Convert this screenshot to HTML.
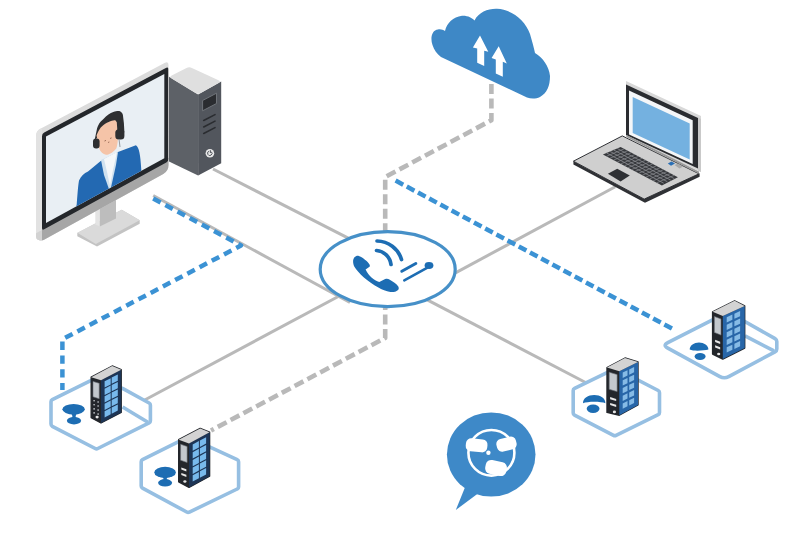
<!DOCTYPE html>
<html><head><meta charset="utf-8"><style>
html,body{margin:0;padding:0;background:#fff;}
body{width:801px;height:534px;overflow:hidden;font-family:"Liberation Sans",sans-serif;}
svg{display:block}
</style></head><body>
<svg width="801" height="534" viewBox="0 0 801 534">
<line x1="213" y1="169" x2="360" y2="244.1" stroke="#b9b9b9" stroke-width="3" fill="none"/>
<line x1="153.2" y1="195.5" x2="350" y2="302.5" stroke="#b9b9b9" stroke-width="3" fill="none"/>
<line x1="144.7" y1="400" x2="350" y2="290.2" stroke="#b9b9b9" stroke-width="3" fill="none"/>
<line x1="615.3" y1="186.7" x2="430" y2="286.6" stroke="#b9b9b9" stroke-width="3" fill="none"/>
<line x1="585.6" y1="382.5" x2="410" y2="290.8" stroke="#b9b9b9" stroke-width="3" fill="none"/>
<path d="M491.4,84 L491.4,120.2 L385.2,177 L385.2,240" stroke="#b9b9b9" stroke-width="4.6" fill="none" stroke-dasharray="10 4.5" stroke-linejoin="round"/>
<path d="M385.2,300 L385.2,337.9 L211,430.5" stroke="#b9b9b9" stroke-width="4.6" fill="none" stroke-dasharray="10 4.5" stroke-linejoin="round"/>
<path d="M395.6,180.6 L675.2,330.2" stroke="#3b92d4" stroke-width="4.5" fill="none" stroke-dasharray="8.6 4.1" stroke-linejoin="round"/>
<path d="M153.2,198.5 L241,245.5 L62.4,339.3 L62.4,390" stroke="#3b92d4" stroke-width="4.5" fill="none" stroke-dasharray="8.4 5.4" stroke-linejoin="round"/>
<ellipse cx="387.7" cy="269.2" rx="67.5" ry="37.5" fill="#fff" stroke="#4690c8" stroke-width="3.2"/>
<path d="M353.1,261.5 C353,258 355.5,255.5 358.3,255.8 C361,256.5 366,260 368.8,263.4 C370,264.8 370.2,266 369.5,266.8 L365.6,269.6 C367.5,273 369,275.5 371.5,277.5 C374,279.5 376.5,281 379.3,282 L385.2,279.1 C387,278.5 388.5,279 389.8,279.8 C393,281.5 396.5,284 397.7,285.7 C399,287 399,289 398.3,289.8 C397,291 396,291.5 395,291.8 C392,292.3 389,292 387.2,291.3 C384,290.3 381.5,289.3 379.3,288 C373,284.7 368,281 363.6,277.2 C359.5,273.5 356.5,270 354.4,266.7 C353.5,265 353.1,263 353.1,261.5 Z" fill="#1d6db3"/>
<path d="M376.5,250.5 A16,16 0 0 1 391,264.5" stroke="#1d6db3" stroke-width="3.7" fill="none" stroke-linecap="round"/>
<path d="M377,241 A26,26 0 0 1 401.5,259.5" stroke="#1d6db3" stroke-width="3.7" fill="none" stroke-linecap="round"/>
<line x1="401.8" y1="271.2" x2="415.8" y2="263.5" stroke="#1d6db3" stroke-width="3" stroke-linecap="round"/>
<line x1="404.3" y1="280.3" x2="427" y2="267.8" stroke="#1d6db3" stroke-width="2.6" stroke-linecap="round"/>
<ellipse cx="429" cy="265.5" rx="4.4" ry="3.4" fill="#1d6db3"/>
<path d="M432.5,45 C430,38 432,30 438,29.5 C441,29 443,30 445,31 C447,23 453,17 462,15.8 C468,15.5 472,18 474.5,20.5 C479,12 488,8.5 497,8.8 C512,9.5 525,20 530,34 C532,41 534,48 535,53 C543,58 549,66 550,76 C550,86 547,93 540,97 C536,99 531,99 527,97.5 L441,57 C437,54 434,50 432.5,45 Z" fill="#3e88c6"/>
<polygon points="480,35.4 488.3,51.8 484.2,50.8 484.2,66 477.2,62.8 477.2,48.4 472.9,47.4" fill="#fff"/>
<polygon points="498.7,46.2 506.8,63.4 502.8,61.8 502.8,76.8 495.8,73.6 495.8,59.4 491.6,58" fill="#fff"/>
<polygon points="77.3,233 121.7,209.7 139.7,220.3 139.7,223.8 97,246.5 77.3,236.2" fill="#c3c3c3"/>
<polygon points="77.3,232.7 121.7,209.7 139.7,220.3 95.8,244" fill="#dadada"/>
<polygon points="95.3,200 99.8,198 99.8,226.5 95.3,224.5" fill="#e4e4e4"/>
<polygon points="99.8,198 116,190 116,218.5 99.8,226.5" fill="#bdbdbd"/>
<clipPath id="mon"><path d="M36.0,136.2 Q36.0,131.2 40.4,128.8 L165.0,62.8 Q168.5,61.0 168.5,65.0 L168.5,165.0 Q168.5,171.0 163.3,173.9 L44.5,239.6 Q42.0,241.0 39.3,240.2 L38.7,240.0 Q36.0,239.2 36.0,236.3 Z"/></clipPath>
<g clip-path="url(#mon)">
<polygon points="35.0,129.7 170.0,58.2 170.0,175.2 35.0,246.7" fill="#dcdcdc"/>
<polygon points="35.0,129.7 42.0,126.0 42.0,243.0 35.0,246.7" fill="#e2e2e2"/>
<polygon points="42.0,227.0 170.0,157.2 170.0,175.2 42.0,243.0" fill="#a6a6a6"/>
<polygon points="35.0,233.7 42.0,230.0 42.0,243.0 35.0,246.7" fill="#d2d2d2"/>
<path d="M42.0,136.2 Q42.0,133.7 44.2,132.5 L166.3,67.8 Q168.5,66.7 168.5,69.2 L168.5,158.7 Q168.5,161.2 166.3,162.4 L44.2,229.3 Q42.0,230.5 42.0,228.0 Z" fill="#24272b"/>
</g>
<clipPath id="scr"><polygon points="46.0,136.6 164.3,73.9 164.3,158.3 46.0,222.9"/></clipPath>
<polygon points="46.0,136.6 164.3,73.9 164.3,158.3 46.0,222.9" fill="#e9eff4"/>
<g clip-path="url(#scr)"><path d="M74,215 L76.7,204.4 C77.5,195 78,186 79,180.4 C81,176 84,173.5 88,171.5 L100.7,161 L118,152 L135.9,145.2 C139,147 140.5,155 141.2,168.5 L144,215 Z" fill="#2369b2"/><path d="M101,160 L118,152 L116,165 L110,192 L104,175 Z" fill="#cfe1ef"/><path d="M104,159 L117,152 L113,170 L110,186 L107,172 Z" fill="#f4f7f9"/><path d="M94.6,140 L97.1,128.3 C99,123 101,121 103.2,119.2 C107,115.5 110,113 113.3,112.1 C116,111 118,110.8 119.4,111.1 C121.5,112 122.6,113.5 122.9,115.1 L123.9,123.2 L124.4,132.3 L118,134 L97,138 Z" fill="#2e2f31"/><path d="M96.6,135.4 C99,129 101,127 103.2,125.2 C106,123 108,122 110.3,121.2 C112.5,120.6 114,120.2 115.3,120.2 L116.8,122.2 L117.4,131.3 L117.9,139.4 C117.5,144 117,146.5 116.3,148.5 C114,151 112.5,152.5 110.3,153.6 C108,155 106.5,155 105.2,154.6 C102.5,153.5 101,152 100.1,150.5 C99,148.5 98.5,146.5 98.1,144.5 Z" fill="#f5c4a8"/><rect x="93" y="138.4" width="6.6" height="10.1" rx="3" fill="#2e2f31"/><rect x="115.3" y="129.3" width="9.1" height="10.1" rx="3.5" fill="#2e2f31"/><path d="M119,139 L120,147" stroke="#8a8f94" stroke-width="0.9" fill="none"/><path d="M104.5,141 l1.5,-0.6 M110,138.5 l1.6,-0.6 M108,142.5 l1.3,-0.5" stroke="#7a4a3a" stroke-width="0.7"/></g>
<polygon points="169,76.8 198.1,94.5 198.1,175.4 169,161.5" fill="#5d6167"/>
<polygon points="198.1,94.5 221.2,81.6 221.2,163.3 198.1,175.4" fill="#52565d"/>
<path d="M171.6,78.4 Q169.0,76.8 171.7,75.5 L186.5,68.0 Q189.2,66.7 191.9,68.0 L218.5,80.3 Q221.2,81.6 218.6,83.1 L200.7,93.0 Q198.1,94.5 195.5,92.9 Z" fill="#dfdfdf"/>
<polygon points="202.6,100.5 216.5,93.2 216.5,103.5 202.6,110.8" fill="#2a2c30" stroke="#74787e" stroke-width="0.9"/>
<line x1="203.7" y1="120.5" x2="215" y2="114.6" stroke="#2a2c30" stroke-width="1.6" stroke-linecap="round"/>
<line x1="203.7" y1="127.0" x2="215" y2="121.1" stroke="#2a2c30" stroke-width="1.6" stroke-linecap="round"/>
<line x1="203.7" y1="133.5" x2="215" y2="127.6" stroke="#2a2c30" stroke-width="1.6" stroke-linecap="round"/>
<circle cx="209.9" cy="153.3" r="4.3" fill="#e8e8e8"/>
<path d="M209.2,151.2 a2.2,2.2 0 1 0 2.2,0.6" stroke="#52565d" stroke-width="1" fill="none"/><line x1="210.4" y1="150.2" x2="210.4" y2="153" stroke="#52565d" stroke-width="1"/>
<polygon points="573.4,161.2 644.2,199.1 699.6,173.2 699.6,176.8 645,202.8 573.4,164.6" fill="#2f3135"/>
<polygon points="573.4,161.2 622.3,135.9 699,173.8 644.2,199.1" fill="#cfcfcf" stroke="#2f3135" stroke-width="1" stroke-linejoin="round"/>
<polygon points="626.0,81.0 701.0,115.9 701.0,171.9 626.0,137.0" fill="#d8d8d8"/>
<polygon points="698.0,117.5 701.0,118.9 701.0,171.9 698.0,170.5" fill="#c9c9c9"/>
<polygon points="626.0,84.5 698.0,118.0 698.0,168.5 626.0,135.0" fill="#2a2c30"/>
<polygon points="629.0,90.6 692.7,120.2 692.7,164.0 629.0,134.4" fill="#f4f6f8"/>
<polygon points="632.7,97.1 689.7,123.6 689.7,159.6 632.7,133.1" fill="#74b1e0"/>
<polygon points="626.5,135 699,171.5 699,173.8 626.5,137" fill="#9a9a9a"/>
<polygon points="602.9,154.4 620.6,146.9 677.9,177.2 661.9,185.6" fill="#36383c"/>
<line x1="606.4" y1="152.9" x2="663.7" y2="183.2" stroke="#8a8c90" stroke-width="0.8"/>
<line x1="610.0" y1="151.4" x2="667.3" y2="181.7" stroke="#8a8c90" stroke-width="0.8"/>
<line x1="613.5" y1="149.9" x2="670.8" y2="180.2" stroke="#8a8c90" stroke-width="0.8"/>
<line x1="617.1" y1="148.4" x2="674.4" y2="178.7" stroke="#8a8c90" stroke-width="0.8"/>
<line x1="606.5" y1="156.3" x2="624.2" y2="148.8" stroke="#8a8c90" stroke-width="0.7"/>
<line x1="610.1" y1="158.2" x2="627.8" y2="150.7" stroke="#8a8c90" stroke-width="0.7"/>
<line x1="613.6" y1="160.1" x2="631.3" y2="152.6" stroke="#8a8c90" stroke-width="0.7"/>
<line x1="617.2" y1="162.0" x2="634.9" y2="154.5" stroke="#8a8c90" stroke-width="0.7"/>
<line x1="620.8" y1="163.9" x2="638.5" y2="156.4" stroke="#8a8c90" stroke-width="0.7"/>
<line x1="624.4" y1="165.8" x2="642.1" y2="158.3" stroke="#8a8c90" stroke-width="0.7"/>
<line x1="628.0" y1="167.7" x2="645.7" y2="160.2" stroke="#8a8c90" stroke-width="0.7"/>
<line x1="631.5" y1="169.6" x2="649.2" y2="162.1" stroke="#8a8c90" stroke-width="0.7"/>
<line x1="635.1" y1="171.4" x2="652.8" y2="163.9" stroke="#8a8c90" stroke-width="0.7"/>
<line x1="638.7" y1="173.3" x2="656.4" y2="165.8" stroke="#8a8c90" stroke-width="0.7"/>
<line x1="642.3" y1="175.2" x2="660.0" y2="167.7" stroke="#8a8c90" stroke-width="0.7"/>
<line x1="645.9" y1="177.1" x2="663.6" y2="169.6" stroke="#8a8c90" stroke-width="0.7"/>
<line x1="649.5" y1="179.0" x2="667.2" y2="171.5" stroke="#8a8c90" stroke-width="0.7"/>
<line x1="653.0" y1="180.9" x2="670.7" y2="173.4" stroke="#8a8c90" stroke-width="0.7"/>
<line x1="656.6" y1="182.8" x2="674.3" y2="175.3" stroke="#8a8c90" stroke-width="0.7"/>
<polygon points="607.9,173.8 617.2,168.8 629.8,175.5 620.6,181.4" fill="#2e3034"/>
<polygon points="667.8,163.5 671.5,161.5 675,163.5 671,165.8" fill="#2a6fb5"/>
<polygon points="674.5,165 678,163.5 683,166.5 679.5,168.5" fill="#a9a9a9"/>
<path d="M51.0,401.8 Q51.0,400.3 52.3,399.6 L90.7,380.7 Q92.0,380.0 93.4,380.4 L121.2,388.1 Q122.6,388.5 123.9,389.2 L149.1,403.0 Q150.4,403.7 150.4,405.2 L150.4,420.7 Q150.4,422.2 149.1,422.9 L97.8,448.5 Q96.5,449.2 95.2,448.5 L52.3,426.3 Q51.0,425.6 51.0,424.1 Z" stroke="#96bfe2" stroke-width="3.6" fill="none" stroke-linejoin="round"/>
<line x1="122.6" y1="407" x2="147.9" y2="422.2" stroke="#96bfe2" stroke-width="3.6" fill="none" stroke-linejoin="round"/>
<path d="M141.2,461.8 Q141.2,460.3 142.5,459.6 L186.7,437.7 Q188.0,437.0 189.4,437.6 L237.2,459.7 Q238.6,460.3 238.6,461.8 L238.6,486.9 Q238.6,488.4 237.2,489.0 L189.4,512.1 Q188.0,512.7 186.7,512.0 L142.5,488.1 Q141.2,487.4 141.2,485.9 Z" stroke="#96bfe2" stroke-width="3.6" fill="none" stroke-linejoin="round"/>
<path d="M573.2,390.5 Q573.2,389.0 574.6,388.3 L614.2,369.2 Q615.6,368.5 616.9,369.2 L658.2,390.5 Q659.5,391.2 659.5,392.7 L659.5,412.5 Q659.5,414.0 658.2,414.7 L616.1,435.3 Q614.8,436.0 613.5,435.3 L574.5,415.1 Q573.2,414.4 573.2,412.9 Z" stroke="#96bfe2" stroke-width="3.6" fill="none" stroke-linejoin="round"/>
<path d="M667.8,348.2 Q662.5,345.3 667.8,342.6 L725.3,313.4 Q728.0,312.0 730.6,313.5 L775.1,338.6 Q776.8,339.6 776.8,341.6 L776.8,348.9 Q776.8,350.9 775.0,351.8 L728.7,376.6 Q724.3,379.0 719.9,376.6 Z" stroke="#96bfe2" stroke-width="3.6" fill="none" stroke-linejoin="round"/>
<line x1="745" y1="335.9" x2="774" y2="350.9" stroke="#96bfe2" stroke-width="3.6" fill="none" stroke-linejoin="round"/>
<ellipse cx="73.6" cy="409.2" rx="11.2" ry="5.3" fill="#1d6db3"/><ellipse cx="74" cy="420.7" rx="7.1" ry="3.7" fill="#1d6db3"/><path d="M70.5,413 Q73.8,416 71.5,418.5 L76.5,418.5 Q74.3,416 77.5,413 Z" fill="#1d6db3"/>
<ellipse cx="165.1" cy="472.4" rx="10.8" ry="5.6" fill="#1d6db3"/><ellipse cx="165.1" cy="482.8" rx="7" ry="3.7" fill="#1d6db3"/><path d="M161.8,476.5 Q165,479 162.5,481 L167.7,481 Q165.2,479 168.4,476.5 Z" fill="#1d6db3"/>
<path d="M583,403.2 C583,398 588,395 594.2,395 C600.4,395 605.4,398 605.4,403.2 C601,401.2 587.5,401.2 583,403.2 Z" fill="#1d6db3"/><ellipse cx="593.1" cy="408.8" rx="6.4" ry="4.2" fill="#1d6db3"/>
<path d="M689.7,349.5 C689.7,345.5 694,342.5 699,342.5 C704,342.5 708.4,345.5 708.4,349.5 C704,350.5 694,351.5 689.7,349.5 Z" fill="#1d6db3"/><ellipse cx="700.1" cy="356.5" rx="5.5" ry="3.4" fill="#1d6db3"/>
<polygon points="91.2,377.2 112.2,366.0 121.2,369.7 121.2,412.4 101.0,423.0 91.2,417.7" fill="#23262b" stroke="#23262b" stroke-width="1.4" stroke-linejoin="round"/>
<polygon points="101.0,380.2 121.2,369.7 121.2,412.4 101.0,423.0" fill="#1d3556"/>
<polygon points="91.2,377.2 112.2,366.0 121.2,369.7 101.0,380.2" fill="#d3d3d3"/>
<polygon points="104.6,381.3 110.7,378.2 110.7,384.4 104.6,387.5" fill="#78b9ec"/>
<polygon points="111.7,377.6 117.8,374.5 117.8,380.7 111.7,383.8" fill="#78b9ec"/>
<polygon points="104.6,388.8 110.7,385.6 110.7,391.9 104.6,395.0" fill="#78b9ec"/>
<polygon points="111.7,385.1 117.8,382.0 117.8,388.2 111.7,391.3" fill="#78b9ec"/>
<polygon points="104.6,396.3 110.7,393.1 110.7,399.3 104.6,402.5" fill="#78b9ec"/>
<polygon points="111.7,392.6 117.8,389.5 117.8,395.7 111.7,398.8" fill="#78b9ec"/>
<polygon points="104.6,403.8 110.7,400.6 110.7,406.8 104.6,410.0" fill="#78b9ec"/>
<polygon points="111.7,400.1 117.8,397.0 117.8,403.2 111.7,406.3" fill="#78b9ec"/>
<polygon points="104.6,411.3 110.7,408.1 110.7,414.3 104.6,417.5" fill="#78b9ec"/>
<polygon points="111.7,407.6 117.8,404.4 117.8,410.6 111.7,413.8" fill="#78b9ec"/>
<polygon points="93.0,381.4 99.2,383.3 99.2,398.7 93.0,396.8" fill="#c3c8cd" stroke="#6c7177" stroke-width="0.6"/>
<circle cx="94.1" cy="400.8" r="0.8" fill="#d9dde1"/>
<circle cx="98.1" cy="402.0" r="0.8" fill="#d9dde1"/>
<circle cx="94.1" cy="404.8" r="0.8" fill="#d9dde1"/>
<circle cx="98.1" cy="406.0" r="0.8" fill="#d9dde1"/>
<circle cx="94.1" cy="408.9" r="0.8" fill="#d9dde1"/>
<circle cx="98.1" cy="410.1" r="0.8" fill="#d9dde1"/>
<circle cx="94.1" cy="412.9" r="0.8" fill="#d9dde1"/>
<circle cx="98.1" cy="414.1" r="0.8" fill="#d9dde1"/>
<ellipse cx="97.1" cy="417.1" rx="1.6" ry="1.3" fill="#e6e6e6"/>
<polygon points="178.7,439.7 200.2,428.4 209.6,432.2 209.6,476.2 189.0,487.4 178.7,481.8" fill="#23262b" stroke="#23262b" stroke-width="1.4" stroke-linejoin="round"/>
<polygon points="189.0,443.4 209.6,432.2 209.6,476.2 189.0,487.4" fill="#1d3556"/>
<polygon points="178.7,439.7 200.2,428.4 209.6,432.2 189.0,443.4" fill="#d3d3d3"/>
<polygon points="192.7,444.5 198.9,441.1 198.9,447.5 192.7,450.8" fill="#78b9ec"/>
<polygon points="199.9,440.5 206.1,437.2 206.1,443.6 199.9,446.9" fill="#78b9ec"/>
<polygon points="192.7,452.2 198.9,448.8 198.9,455.2 192.7,458.5" fill="#78b9ec"/>
<polygon points="199.9,448.2 206.1,444.9 206.1,451.3 199.9,454.6" fill="#78b9ec"/>
<polygon points="192.7,459.9 198.9,456.5 198.9,462.9 192.7,466.2" fill="#78b9ec"/>
<polygon points="199.9,455.9 206.1,452.6 206.1,459.0 199.9,462.3" fill="#78b9ec"/>
<polygon points="192.7,467.6 198.9,464.2 198.9,470.6 192.7,473.9" fill="#78b9ec"/>
<polygon points="199.9,463.6 206.1,460.3 206.1,466.7 199.9,470.0" fill="#78b9ec"/>
<polygon points="192.7,475.3 198.9,471.9 198.9,478.3 192.7,481.6" fill="#78b9ec"/>
<polygon points="199.9,471.3 206.1,468.0 206.1,474.4 199.9,477.7" fill="#78b9ec"/>
<polygon points="180.6,444.2 187.1,446.5 187.1,462.5 180.6,460.2" fill="#c3c8cd" stroke="#6c7177" stroke-width="0.6"/>
<polygon points="181.3,467.4 186.4,469.3 186.4,471.5 181.3,469.6" fill="#e8e8e8"/>
<polygon points="181.3,472.9 186.4,474.7 186.4,476.9 181.3,475.1" fill="#e8e8e8"/>
<ellipse cx="184.9" cy="481.5" rx="1.6" ry="1.3" fill="#e6e6e6"/>
<polygon points="607.0,367.5 625.0,358.0 638.0,362.0 638.0,405.0 619.3,415.2 607.0,412.4" fill="#23262b" stroke="#23262b" stroke-width="1.4" stroke-linejoin="round"/>
<polygon points="619.3,371.2 638.0,362.0 638.0,405.0 619.3,415.2" fill="#2866a8"/>
<polygon points="607.0,367.5 625.0,358.0 638.0,362.0 619.3,371.2" fill="#d3d3d3"/>
<polygon points="622.7,372.6 627.5,370.2 627.5,375.5 622.7,377.9" fill="#86bbe6"/>
<polygon points="629.2,369.4 634.1,367.0 634.1,372.3 629.2,374.7" fill="#86bbe6"/>
<polygon points="622.7,380.3 627.5,377.9 627.5,383.2 622.7,385.6" fill="#86bbe6"/>
<polygon points="629.2,377.1 634.1,374.7 634.1,380.0 629.2,382.4" fill="#86bbe6"/>
<polygon points="622.7,388.0 627.5,385.6 627.5,390.9 622.7,393.3" fill="#86bbe6"/>
<polygon points="629.2,384.8 634.1,382.4 634.1,387.7 629.2,390.1" fill="#86bbe6"/>
<polygon points="622.7,395.7 627.5,393.3 627.5,398.6 622.7,401.0" fill="#86bbe6"/>
<polygon points="629.2,392.5 634.1,390.1 634.1,395.4 629.2,397.8" fill="#86bbe6"/>
<polygon points="622.7,403.4 627.5,401.0 627.5,406.3 622.7,408.7" fill="#86bbe6"/>
<polygon points="629.2,400.2 634.1,397.8 634.1,403.1 629.2,405.5" fill="#86bbe6"/>
<polygon points="609.2,372.2 617.1,374.6 617.1,391.6 609.2,389.3" fill="#c3c8cd" stroke="#6c7177" stroke-width="0.6"/>
<polygon points="610.1,397.1 616.2,398.9 616.2,401.1 610.1,399.3" fill="#e8e8e8"/>
<polygon points="610.1,402.9 616.2,404.7 616.2,406.9 610.1,405.1" fill="#e8e8e8"/>
<ellipse cx="614.4" cy="411.9" rx="1.6" ry="1.3" fill="#e6e6e6"/>
<polygon points="712.6,311.8 734.6,300.8 744.7,305.9 744.7,348.0 722.8,359.0 712.6,354.0" fill="#23262b" stroke="#23262b" stroke-width="1.4" stroke-linejoin="round"/>
<polygon points="722.8,316.0 744.7,305.9 744.7,348.0 722.8,359.0" fill="#2866a8"/>
<polygon points="712.6,311.8 734.6,300.8 744.7,305.9 722.8,316.0" fill="#d3d3d3"/>
<polygon points="726.7,317.2 732.4,314.6 732.4,319.7 726.7,322.4" fill="#86bbe6"/>
<polygon points="734.4,313.7 740.1,311.0 740.1,316.2 734.4,318.8" fill="#86bbe6"/>
<polygon points="726.7,324.7 732.4,322.1 732.4,327.3 726.7,329.9" fill="#86bbe6"/>
<polygon points="734.4,321.2 740.1,318.6 740.1,323.7 734.4,326.3" fill="#86bbe6"/>
<polygon points="726.7,332.2 732.4,329.6 732.4,334.8 726.7,337.4" fill="#86bbe6"/>
<polygon points="734.4,328.7 740.1,326.1 740.1,331.2 734.4,333.9" fill="#86bbe6"/>
<polygon points="726.7,339.8 732.4,337.1 732.4,342.3 726.7,344.9" fill="#86bbe6"/>
<polygon points="734.4,336.2 740.1,333.6 740.1,338.8 734.4,341.4" fill="#86bbe6"/>
<polygon points="726.7,347.3 732.4,344.7 732.4,349.8 726.7,352.5" fill="#86bbe6"/>
<polygon points="734.4,343.8 740.1,341.1 740.1,346.3 734.4,348.9" fill="#86bbe6"/>
<polygon points="714.4,316.4 721.0,319.0 721.0,335.1 714.4,332.4" fill="#c3c8cd" stroke="#6c7177" stroke-width="0.6"/>
<polygon points="715.1,339.7 720.2,341.8 720.2,344.0 715.1,341.9" fill="#e8e8e8"/>
<polygon points="715.1,345.2 720.2,347.3 720.2,349.5 715.1,347.4" fill="#e8e8e8"/>
<ellipse cx="718.7" cy="354.0" rx="1.6" ry="1.3" fill="#e6e6e6"/>
<path d="M468,480 L455.8,510 L484,489 Z" fill="#3e89c8"/>
<ellipse cx="491.2" cy="454.5" rx="44.3" ry="42.1" fill="#3e89c8"/>
<ellipse cx="491.4" cy="452.8" rx="23" ry="22.8" stroke="#fff" stroke-width="2.6" fill="none"/>
<rect x="465.8" y="438.8" width="21.6" height="13" rx="5.2" transform="rotate(6 476.6 445.3)" fill="#fff"/>
<rect x="496.5" y="437.6" width="20" height="13" rx="5.2" transform="rotate(-14 506.5 444.1)" fill="#fff"/>
<rect x="485.3" y="461" width="21.5" height="14" rx="5.5" transform="rotate(12 496 468)" fill="#fff"/>
<circle cx="488.4" cy="452.8" r="2.2" fill="#fff"/>
</svg>
</body></html>
